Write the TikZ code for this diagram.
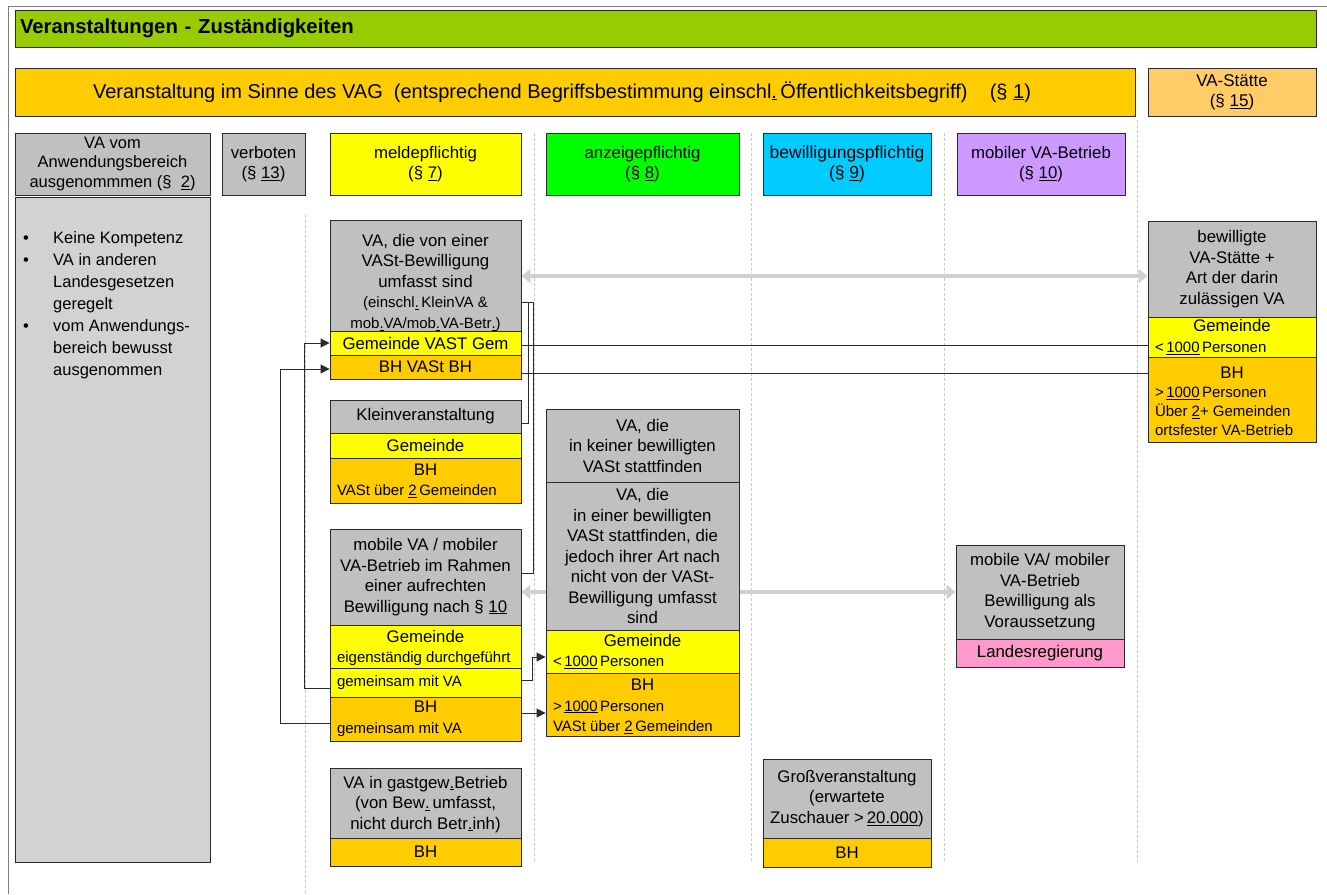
\documentclass[tikz,border=0pt]{standalone}
\usepackage{fontspec}
\setmainfont{Liberation Sans}
\usetikzlibrary{arrows.meta}
\pgfdeclarelayer{bg}
\pgfsetlayers{bg,main}
\definecolor{cTitle}{HTML}{99CC00}
\definecolor{cOrange}{HTML}{FFCC00}
\definecolor{cLOrange}{HTML}{FFCC66}
\definecolor{cGray}{HTML}{C0C0C0}
\definecolor{cBody}{HTML}{D2D2D2}
\definecolor{cYellow}{HTML}{FFFF00}
\definecolor{cGreen}{HTML}{00FF00}
\definecolor{cCyan}{HTML}{00CCFF}
\definecolor{cPurple}{HTML}{CC99FF}
\definecolor{cPink}{HTML}{FF99CC}
\definecolor{cLine}{HTML}{2A2A2A}
\definecolor{cSep}{HTML}{C8C8C8}
\definecolor{cArrow}{HTML}{D0D0D0}
\definecolor{cFrame}{HTML}{808080}
\newcommand{\fsz}[2]{\fontsize{#1}{#2}\selectfont}
\newcommand{\ulk}[1]{\underline{#1}}
\newcommand{\Lft}[2]{\makebox[#1][l]{\hspace*{7pt}#2}}
\newcommand{\sm}{\fsz{15}{19}}
\begin{document}
\begin{tikzpicture}[x=1pt,y=-1pt,
  cell/.style={draw=cLine, line width=0.9pt, inner sep=0pt, align=center, font=\fsz{16.8}{20.5}},
  wh/.style 2 args={minimum width=#1pt, minimum height=#2pt},
  link/.style={draw=cLine, line width=0.9pt},
  arr/.style={link, -{Triangle[length=9pt,width=9pt]}},
  garr/.style={draw=cArrow, line width=4pt, {Triangle[length=9pt,width=14pt]}-{Triangle[length=9pt,width=14pt]}},
  sep/.style={draw=cSep, line width=0.6pt, dash pattern=on 3pt off 2pt}]
\useasboundingbox (0,0) rectangle (1327,894);
\draw[cFrame, line width=0.8pt] (8,894) -- (8,6) -- (1327,6);

% title and top bars
\node[cell, fill=cTitle, wh={1301}{37}, align=left, font=\bfseries\fsz{20.3}{23}, text width=1291pt] (title) at (665.5,28.5) {Veranstaltungen - Zuständigkeiten};
\node[cell, fill=cOrange, wh={1120}{48}, font=\fsz{20}{23}] (vag) at (575,92) {Veranstaltung im Sinne des VAG\ \ (entsprechend Begriffsbestimmung einschl\ulk{.}\,Öffentlichkeitsbegriff)\ \ \ \ (§ \ulk{1})\hspace*{26pt}};
\node[cell, fill=cLOrange, wh={168}{48}, font=\fsz{17}{20}] (vast) at (1232,92) {VA-Stätte\\(§ \ulk{15})};

% header row
\node[cell, fill=cGray, wh={195}{62}, font=\fsz{16.5}{19.5}] (h1) at (112.5,164) {VA vom\\Anwendungsbereich\\ausgenommmen (§\ \ \ulk{2})};
\node[cell, fill=cGray, wh={83}{62}] (h2) at (263.5,164) {verboten\\(§ \ulk{13})};
\node[cell, fill=cYellow, wh={191}{62}] (h3) at (425.5,164) {meldepflichtig\\(§ \ulk{7})};
\node[cell, fill=cGreen, wh={193}{62}] (h4) at (642.5,164) {anzeigepflichtig\\(§ \ulk{8})};
\node[cell, fill=cCyan, wh={168}{62}, font=\fsz{17.5}{20.5}] (h5) at (847,164) {bewilligungspflichtig\\(§ \ulk{9})};
\node[cell, fill=cPurple, wh={168}{62}] (h6) at (1041,164) {mobiler VA-Betrieb\\(§ \ulk{10})};

% left body
\node[cell, fill=cBody, wh={195}{665}] (body) at (112.5,529.5) {};
\node[anchor=north west, inner sep=0pt, align=left, font=\fsz{16.5}{22}] (bodytxt) at (23,231) {\makebox[30pt][l]{\textbullet}Keine Kompetenz\\
\makebox[30pt][l]{\textbullet}VA in anderen\\
\hspace*{30pt}Landesgesetzen\\
\hspace*{30pt}geregelt\\
\makebox[30pt][l]{\textbullet}vom Anwendungs-\\
\hspace*{30pt}bereich bewusst\\
\hspace*{30pt}ausgenommen};

% meldepflichtig column
\node[cell, fill=cGray, wh={191}{110}] (Ag) at (425.5,276) {\rule{0pt}{26pt}VA, die von einer\\VASt-Bewilligung\\umfasst sind\\{\sm(einschl\ulk{.}\,KleinVA \&}\\{\sm mob\ulk{.}VA/mob\ulk{.}VA-Betr\ulk{.})}};
\node[cell, fill=cYellow, wh={191}{24}] (gv) at (425.5,343) {Gemeinde VAST Gem};
\node[cell, fill=cOrange, wh={191}{24}] (bv) at (425.5,367) {BH VASt BH};

\node[cell, fill=cGray, wh={191}{33}] (Bg) at (425.5,416.5) {Kleinveranstaltung};
\node[cell, fill=cYellow, wh={191}{25}] (By) at (425.5,445.5) {Gemeinde};
\node[cell, fill=cOrange, wh={191}{45}] (Bo) at (425.5,480.5) {BH\\{\sm\Lft{191pt}{VASt über \ulk{2}\,Gemeinden}}};

\node[cell, fill=cGray, wh={191}{96}] (Cg) at (425.5,577) {mobile VA / mobiler\\VA-Betrieb im Rahmen\\einer aufrechten\\Bewilligung nach § \ulk{10}};
\node[cell, fill=cYellow, wh={191}{43}] (Cy1) at (425.5,646.5) {\rule{0pt}{15pt}Gemeinde\\{\sm\Lft{191pt}{eigenständig durchgeführt}}};
\node[cell, fill=cYellow, wh={191}{29}] (Cy2) at (425.5,682.5) {\sm\Lft{191pt}{gemeinsam mit VA}};
\node[cell, fill=cOrange, wh={191}{44}] (Co) at (425.5,719) {BH\\{\sm\Lft{191pt}{gemeinsam mit VA}}};

\node[cell, fill=cGray, wh={191}{70}] (Dg) at (425.5,803) {\rule{0pt}{15pt}VA in gastgew\ulk{.}Betrieb\\(von Bew\ulk{.}\,umfasst,\\nicht durch Betr\ulk{.}inh)};
\node[cell, fill=cOrange, wh={191}{28}] (Do) at (425.5,852) {BH};

% anzeigepflichtig column
\node[cell, fill=cGray, wh={193}{73}] (Eg1) at (642.5,445.5) {VA, die\\in keiner bewilligten\\VASt stattfinden};
\node[cell, fill=cGray, wh={193}{148}] (Eg2) at (642.5,556) {VA, die\\in einer bewilligten\\VASt stattfinden, die\\jedoch ihrer Art nach\\nicht von der VASt-\\Bewilligung umfasst\\sind};
\node[cell, fill=cYellow, wh={193}{43}] (Ey) at (642.5,651.5) {Gemeinde\\{\sm\Lft{193pt}{<\,\ulk{1000}\,Personen}}};
\node[cell, fill=cOrange, wh={193}{63}] (Eo) at (642.5,704.5) {\rule{0pt}{15pt}BH\\{\sm\Lft{193pt}{>\,\ulk{1000}\,Personen}}\\{\sm\Lft{193pt}{VASt über \ulk{2}\,Gemeinden}}};

% bewilligungspflichtig column
\node[cell, fill=cGray, wh={168}{79}] (Gg) at (847,798.5) {Großveranstaltung\\(erwartete\\Zuschauer >\,\ulk{20.000})};
\node[cell, fill=cOrange, wh={168}{29}] (Go) at (847,852.5) {BH};

% mobiler VA-Betrieb column
\node[cell, fill=cGray, wh={168}{94}] (Mg) at (1040,592) {mobile VA/ mobiler\\VA-Betrieb\\Bewilligung als\\Voraussetzung};
\node[cell, fill=cPink, wh={168}{28}] (Mp) at (1040,653) {Landesregierung};

% VA-Staette column
\node[cell, fill=cGray, wh={168}{96}] (Wg) at (1232,269) {bewilligte\\VA-Stätte +\\Art der darin\\zulässigen VA};
\node[cell, fill=cYellow, wh={168}{40}] (Wy) at (1232,337) {Gemeinde\\{\sm\Lft{168pt}{<\,\ulk{1000}\,Personen}}};
\node[cell, fill=cOrange, wh={168}{85}, font=\sm] (Wo) at (1232,399.5) {{\fsz{16.8}{19}\rule{0pt}{16pt}BH}\\\Lft{168pt}{>\,\ulk{1000}\,Personen}\\\Lft{168pt}{Über \ulk{2}+ Gemeinden}\\\Lft{168pt}{ortsfester VA-Betrieb}};

% background: separators and grey arrows
\begin{pgfonlayer}{bg}
\draw[sep] (305,215) -- (305,894);
\draw[sep] (534,133) -- (534,862);
\draw[sep] (751,133) -- (751,862);
\draw[sep] (944,133) -- (944,862);
\draw[sep] (1137,120) -- (1137,862);
\draw[garr] (Ag.east) -- (Ag.east -| Wg.west);
\draw[garr] (Cg.east |- Mg.west) -- (Mg.west);
\end{pgfonlayer}

% brackets
\draw[link] ([yshift=-26pt]Ag.east) -- ++(7,0) |- ([yshift=-6.5pt]Bg.east);
\draw[link] ([yshift=-26pt]Ag.east) -- ++(12,0) |- ([yshift=4pt]Cg.east);

% lines to VA-Staette
\draw[link] (gv.east |- 0,345) -- (Wy.west |- 0,345);
\draw[link] (bv.east |- 0,373) -- (Wo.west |- 0,373);

% arrows
\draw[arr] (Cy2.west |- 0,688) -| ([xshift=-25pt]gv.west) -- (gv.west);
\draw[arr] (Co.west |- 0,723) -| ([xshift=-49pt,yshift=-2pt]bv.west) -- ([yshift=-2pt]bv.west);
\draw[arr] (Cy2.east |- 0,680) -- ++(11,0) |- (Ey.west |- 0,657);
\draw[arr] (Co.east |- 0,713) -- (Eo.west |- 0,713);
\end{tikzpicture}
\end{document}
